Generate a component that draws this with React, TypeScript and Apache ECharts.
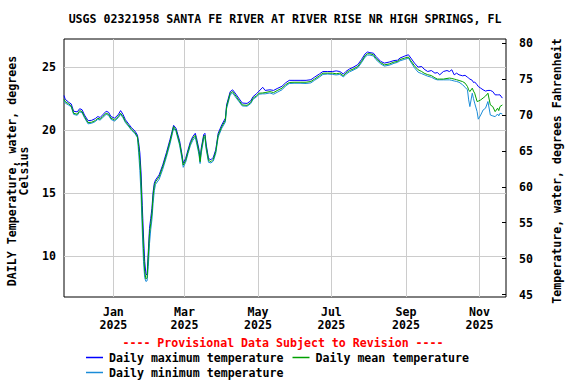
import React, { useEffect, useRef } from "react";
import * as echarts from "echarts";

const titleText = "USGS 02321958 SANTA FE RIVER AT RIVER RISE NR HIGH SPRINGS, FL";
const provisionalText = "---- Provisional Data Subject to Revision ----";
const leftAxisTitle = "DAILY Temperature, water, degrees\nCelsius";
const rightAxisTitle = "Temperature, water, degrees Fahrenheit";
const seriesNames = ["Daily maximum temperature", "Daily mean temperature", "Daily minimum temperature"];

const xStart = "2024-11-21";
const xEnd = "2025-11-23";
const xTickDates = ["2025-01-01", "2025-03-01", "2025-05-01", "2025-07-01", "2025-09-01", "2025-11-01"];
const xTickLabels = ["Jan\n2025", "Mar\n2025", "May\n2025", "Jul\n2025", "Sep\n2025", "Nov\n2025"];
const celsiusTicks = [10, 15, 20, 25];
const fahrenheitTicks = [45, 50, 55, 60, 65, 70, 75, 80];

const dates = [
  "2024-11-21", "2024-11-22", "2024-11-25", "2024-11-27", "2024-11-29", "2024-12-02", "2024-12-04", "2024-12-06",
  "2024-12-08", "2024-12-11", "2024-12-14", "2024-12-17", "2024-12-19", "2024-12-21", "2024-12-23", "2024-12-26",
  "2024-12-28", "2024-12-30", "2025-01-02", "2025-01-05", "2025-01-07", "2025-01-09", "2025-01-11", "2025-01-14",
  "2025-01-16", "2025-01-19", "2025-01-21", "2025-01-22", "2025-01-23", "2025-01-24", "2025-01-25", "2025-01-26",
  "2025-01-27", "2025-01-28", "2025-01-29", "2025-01-30", "2025-01-31", "2025-02-01", "2025-02-02", "2025-02-03",
  "2025-02-04", "2025-02-05", "2025-02-08", "2025-02-11", "2025-02-14", "2025-02-17", "2025-02-19", "2025-02-20",
  "2025-02-22", "2025-02-25", "2025-02-27", "2025-02-28", "2025-03-02", "2025-03-04", "2025-03-06", "2025-03-08",
  "2025-03-10", "2025-03-11", "2025-03-13", "2025-03-14", "2025-03-15", "2025-03-17", "2025-03-18", "2025-03-19",
  "2025-03-21", "2025-03-23", "2025-03-25", "2025-03-27", "2025-03-29", "2025-04-01", "2025-04-04", "2025-04-05",
  "2025-04-08", "2025-04-10", "2025-04-12", "2025-04-15", "2025-04-18", "2025-04-22", "2025-04-25", "2025-04-27",
  "2025-04-30", "2025-05-02", "2025-05-05", "2025-05-07", "2025-05-11", "2025-05-14", "2025-05-17", "2025-05-21",
  "2025-05-24", "2025-05-27", "2025-05-31", "2025-06-05", "2025-06-10", "2025-06-14", "2025-06-17", "2025-06-21",
  "2025-06-24", "2025-06-28", "2025-07-02", "2025-07-05", "2025-07-08", "2025-07-11", "2025-07-13", "2025-07-16",
  "2025-07-19", "2025-07-23", "2025-07-26", "2025-07-29", "2025-07-31", "2025-08-02", "2025-08-05", "2025-08-07",
  "2025-08-11", "2025-08-14", "2025-08-18", "2025-08-22", "2025-08-25", "2025-08-27", "2025-08-31", "2025-09-03",
  "2025-09-05", "2025-09-08", "2025-09-11", "2025-09-14", "2025-09-16", "2025-09-19", "2025-09-22", "2025-09-25",
  "2025-09-27", "2025-09-29", "2025-10-02", "2025-10-05", "2025-10-07", "2025-10-09", "2025-10-11", "2025-10-13",
  "2025-10-15", "2025-10-18", "2025-10-20", "2025-10-22", "2025-10-23", "2025-10-24", "2025-10-26", "2025-10-27",
  "2025-10-28", "2025-10-30", "2025-10-31", "2025-11-02", "2025-11-04", "2025-11-06", "2025-11-08", "2025-11-10",
  "2025-11-12", "2025-11-14", "2025-11-16", "2025-11-17", "2025-11-18", "2025-11-20",
];

const maxTemp = [
  22.75, 22.45, 22.2, 22.08, 21.5, 21.45, 21.7, 21.62,
  21.2, 20.75, 20.78, 20.92, 21.08, 21.0, 21.2, 21.5,
  21.42, 21.08, 20.95, 21.22, 21.55, 21.25, 20.82, 20.45,
  20.2, 19.92, 19.6, 19.0, 18.2, 16.6, 14.0, 11.6,
  9.6, 8.6, 8.5, 10.4, 12.2, 13.0, 13.8, 15.1,
  15.8, 16.05, 16.45, 17.25, 18.2, 19.25, 20.0, 20.38,
  20.15, 19.15, 18.05, 17.4, 17.75, 18.45, 19.1, 19.5,
  19.75, 19.4, 18.5, 17.7, 18.6, 19.65, 19.75, 18.9,
  17.75, 17.65, 17.85, 18.45, 19.75, 20.42, 20.95, 22.0,
  23.05, 23.2, 22.95, 22.55, 22.15, 22.12, 22.32, 22.66,
  22.9, 23.1, 23.4, 23.15, 23.2, 23.15, 23.3, 23.48,
  23.75, 23.95, 23.95, 23.95, 23.95, 24.0, 24.2, 24.45,
  24.65, 24.65, 24.65, 24.7, 24.65, 24.45, 24.65, 24.85,
  24.98, 25.2, 25.6, 26.05, 26.2, 26.15, 26.1, 25.85,
  25.45, 25.32, 25.4, 25.52, 25.55, 25.72, 25.88, 25.98,
  25.72, 25.32, 25.0, 25.05, 24.84, 24.65, 24.73, 24.52,
  24.57, 24.39, 24.65, 24.73, 24.65, 24.79, 24.39, 24.52,
  24.39, 24.31, 24.35, 24.2, 24.13, 24.05, 23.95, 23.78,
  23.82, 23.6, 23.46, 23.33, 23.2, 23.1, 23.15, 23.15,
  23.06, 22.8, 22.8, 22.8, 22.8, 22.54,
];

const meanTemp = [
  22.45, 22.27, 22.08, 21.92, 21.34, 21.26, 21.55, 21.47,
  21.07, 20.6, 20.63, 20.76, 20.95, 20.87, 21.07, 21.34,
  21.26, 20.95, 20.81, 21.07, 21.34, 21.07, 20.68, 20.33,
  20.07, 19.8, 19.48, 18.7, 17.6, 15.8, 13.0, 10.6,
  8.8, 8.2, 8.3, 10.0, 11.8, 12.6, 13.4, 14.8,
  15.6, 15.9, 16.3, 17.1, 18.03, 19.09, 19.88, 20.28,
  20.0, 18.96, 17.9, 17.23, 17.6, 18.3, 18.96, 19.36,
  19.6, 19.2, 18.3, 17.5, 18.43, 19.48, 19.6, 18.7,
  17.6, 17.5, 17.7, 18.3, 19.6, 20.28, 20.8, 21.87,
  22.93, 23.06, 22.8, 22.4, 22.0, 21.97, 22.19, 22.54,
  22.74, 22.93, 22.95, 22.98, 23.06, 22.98, 23.14, 23.33,
  23.6, 23.78, 23.8, 23.8, 23.8, 23.86, 24.05, 24.31,
  24.52, 24.52, 24.52, 24.47, 24.52, 24.31, 24.52, 24.73,
  24.84, 25.05, 25.45, 25.9, 26.06, 26.06, 25.98, 25.7,
  25.35, 25.18, 25.25, 25.4, 25.45, 25.6, 25.72, 25.8,
  25.5, 25.1, 24.79, 24.65, 24.52, 24.4, 24.33, 24.15,
  24.05, 24.05, 24.05, 24.1, 24.13, 24.1, 24.05, 24.0,
  23.94, 23.85, 23.73, 23.46, 23.2, 23.06, 23.33, 23.1,
  22.93, 22.27, 22.3, 22.4, 22.55, 22.7, 22.93, 22.0,
  21.87, 21.47, 21.74, 21.55, 21.87, 22.0,
];

const minTemp = [
  22.35, 22.15, 21.98, 21.85, 21.25, 21.18, 21.45, 21.38,
  20.98, 20.5, 20.55, 20.68, 20.85, 20.8, 20.98, 21.25,
  21.18, 20.85, 20.72, 20.98, 21.25, 20.98, 20.6, 20.25,
  20.0, 19.72, 19.4, 18.2, 16.8, 14.8, 12.0, 9.6,
  8.3, 8.0, 8.05, 9.2, 11.0, 12.1, 12.9, 14.2,
  15.2, 15.7, 16.1, 16.9, 17.85, 18.9, 19.72, 20.15,
  19.9, 18.8, 17.7, 17.05, 17.45, 18.15, 18.8, 19.2,
  19.45, 19.0, 18.1, 17.35, 18.2, 19.3, 19.45, 18.5,
  17.45, 17.4, 17.55, 18.15, 19.45, 20.15, 20.65, 21.7,
  22.8, 22.95, 22.68, 22.3, 21.92, 21.9, 22.1, 22.45,
  22.65, 22.85, 22.88, 22.88, 22.95, 22.85, 23.0, 23.2,
  23.5, 23.7, 23.72, 23.72, 23.7, 23.75, 23.95, 24.2,
  24.42, 24.45, 24.42, 24.38, 24.42, 24.22, 24.42, 24.62,
  24.75, 24.95, 25.35, 25.8, 25.95, 25.95, 25.88, 25.6,
  25.25, 25.08, 25.15, 25.3, 25.38, 25.5, 25.62, 25.72,
  25.4, 24.95, 24.6, 24.48, 24.4, 24.28, 24.2, 24.05,
  23.99, 23.99, 23.99, 23.99, 23.99, 23.95, 23.9, 23.86,
  23.8, 23.6, 23.4, 23.2, 22.4, 21.87, 22.93, 22.5,
  22.14, 21.47, 20.87, 21.2, 21.6, 21.74, 22.27, 21.2,
  21.13, 21.07, 21.28, 21.13, 21.34, 21.28,
];

const seriesColors = ["#0000ff", "#00a000", "#1a8cd8"];
const FONT = "DejaVu Sans Mono";

const toTs = (s: string) => new Date(s + "T00:00:00").getTime();

export default function App() {
  const ref = useRef<HTMLDivElement>(null);
  useEffect(() => {
    if (!ref.current) return;
    const chart = echarts.init(ref.current, null, { renderer: "svg" });
    const cMin = 6.765;
    const cMax = 27.23;
    const fMin = 44.67;
    const fMax = 80.56;
    const values = [maxTemp, meanTemp, minTemp];
    const zs = [2, 4, 3];
    const xTickTs = xTickDates.map(toTs);
    const textBase = { fontFamily: FONT, fontWeight: "bold" as const, fontSize: 11.6, color: "#000" };
    const legendBase = {
      left: 86,
      padding: 0,
      icon: "rect",
      itemWidth: 17,
      itemHeight: 1.5,
      itemGap: 9,
      textStyle: { ...textBase, padding: [0, 0, 0, 1] },
    };
    chart.setOption({
      animation: false,
      backgroundColor: "#fff",
      grid: { left: 64, right: 70, top: 39, bottom: 87, show: true, borderColor: "#000", borderWidth: 1, backgroundColor: "transparent" },
      xAxis: {
        type: "value",
        min: toTs(xStart),
        max: toTs(xEnd),
        axisLine: { show: false },
        axisTick: { show: false, customValues: xTickTs },
        splitLine: { show: true, lineStyle: { color: "#cccccc", width: 1 } },
        axisLabel: {
          customValues: xTickTs,
          ...textBase,
          lineHeight: 13,
          margin: 8,
          hideOverlap: false,
          formatter: (val: number) => {
            const idx = xTickTs.findIndex((t) => Math.abs(t - val) < 3600000);
            return idx >= 0 ? xTickLabels[idx] : "";
          },
        },
      },
      yAxis: [
        {
          type: "value",
          min: cMin,
          max: cMax,
          axisLine: { show: false },
          axisTick: { show: false, customValues: celsiusTicks },
          splitLine: { show: true, lineStyle: { color: "#cccccc", width: 1 } },
          axisLabel: { customValues: celsiusTicks, ...textBase, margin: 8 },
        },
        {
          type: "value",
          position: "right",
          min: fMin,
          max: fMax,
          axisLine: { show: false },
          axisTick: { show: true, inside: true, length: 4, customValues: fahrenheitTicks, lineStyle: { color: "#000" } },
          splitLine: { show: false },
          axisLabel: { customValues: fahrenheitTicks, ...textBase, margin: 13 },
        },
      ],
      legend: [
        { ...legendBase, data: [seriesNames[0], seriesNames[1]], top: 351.5 },
        { ...legendBase, data: [seriesNames[2]], top: 366.5 },
      ],
      graphic: [
        { type: "text", x: 285, y: 19, style: { text: titleText, ...textBase, fill: "#000", align: "center", verticalAlign: "middle" } },
        { type: "text", x: 283, y: 343, style: { text: provisionalText, ...textBase, fill: "#ff0000", align: "center", verticalAlign: "middle" } },
        { type: "text", x: 17.5, y: 171, rotation: Math.PI / 2, style: { text: leftAxisTitle, ...textBase, fill: "#000", align: "center", verticalAlign: "middle", lineHeight: 12 } },
        { type: "text", x: 557, y: 171, rotation: Math.PI / 2, style: { text: rightAxisTitle, ...textBase, fill: "#000", align: "center", verticalAlign: "middle" } },
      ],
      series: seriesNames.map((name, i) => ({
        name,
        type: "line",
        yAxisIndex: 0,
        z: zs[i],
        showSymbol: false,
        symbol: "none",
        color: seriesColors[i],
        lineStyle: { width: 1, color: seriesColors[i] },
        data: dates.map((d, j) => [toTs(d), values[i][j]]),
      })),
    });
    return () => chart.dispose();
  }, []);
  return <div ref={ref} style={{ position: "fixed", left: 0, top: 0, width: 576, height: 384 }} />;
}
